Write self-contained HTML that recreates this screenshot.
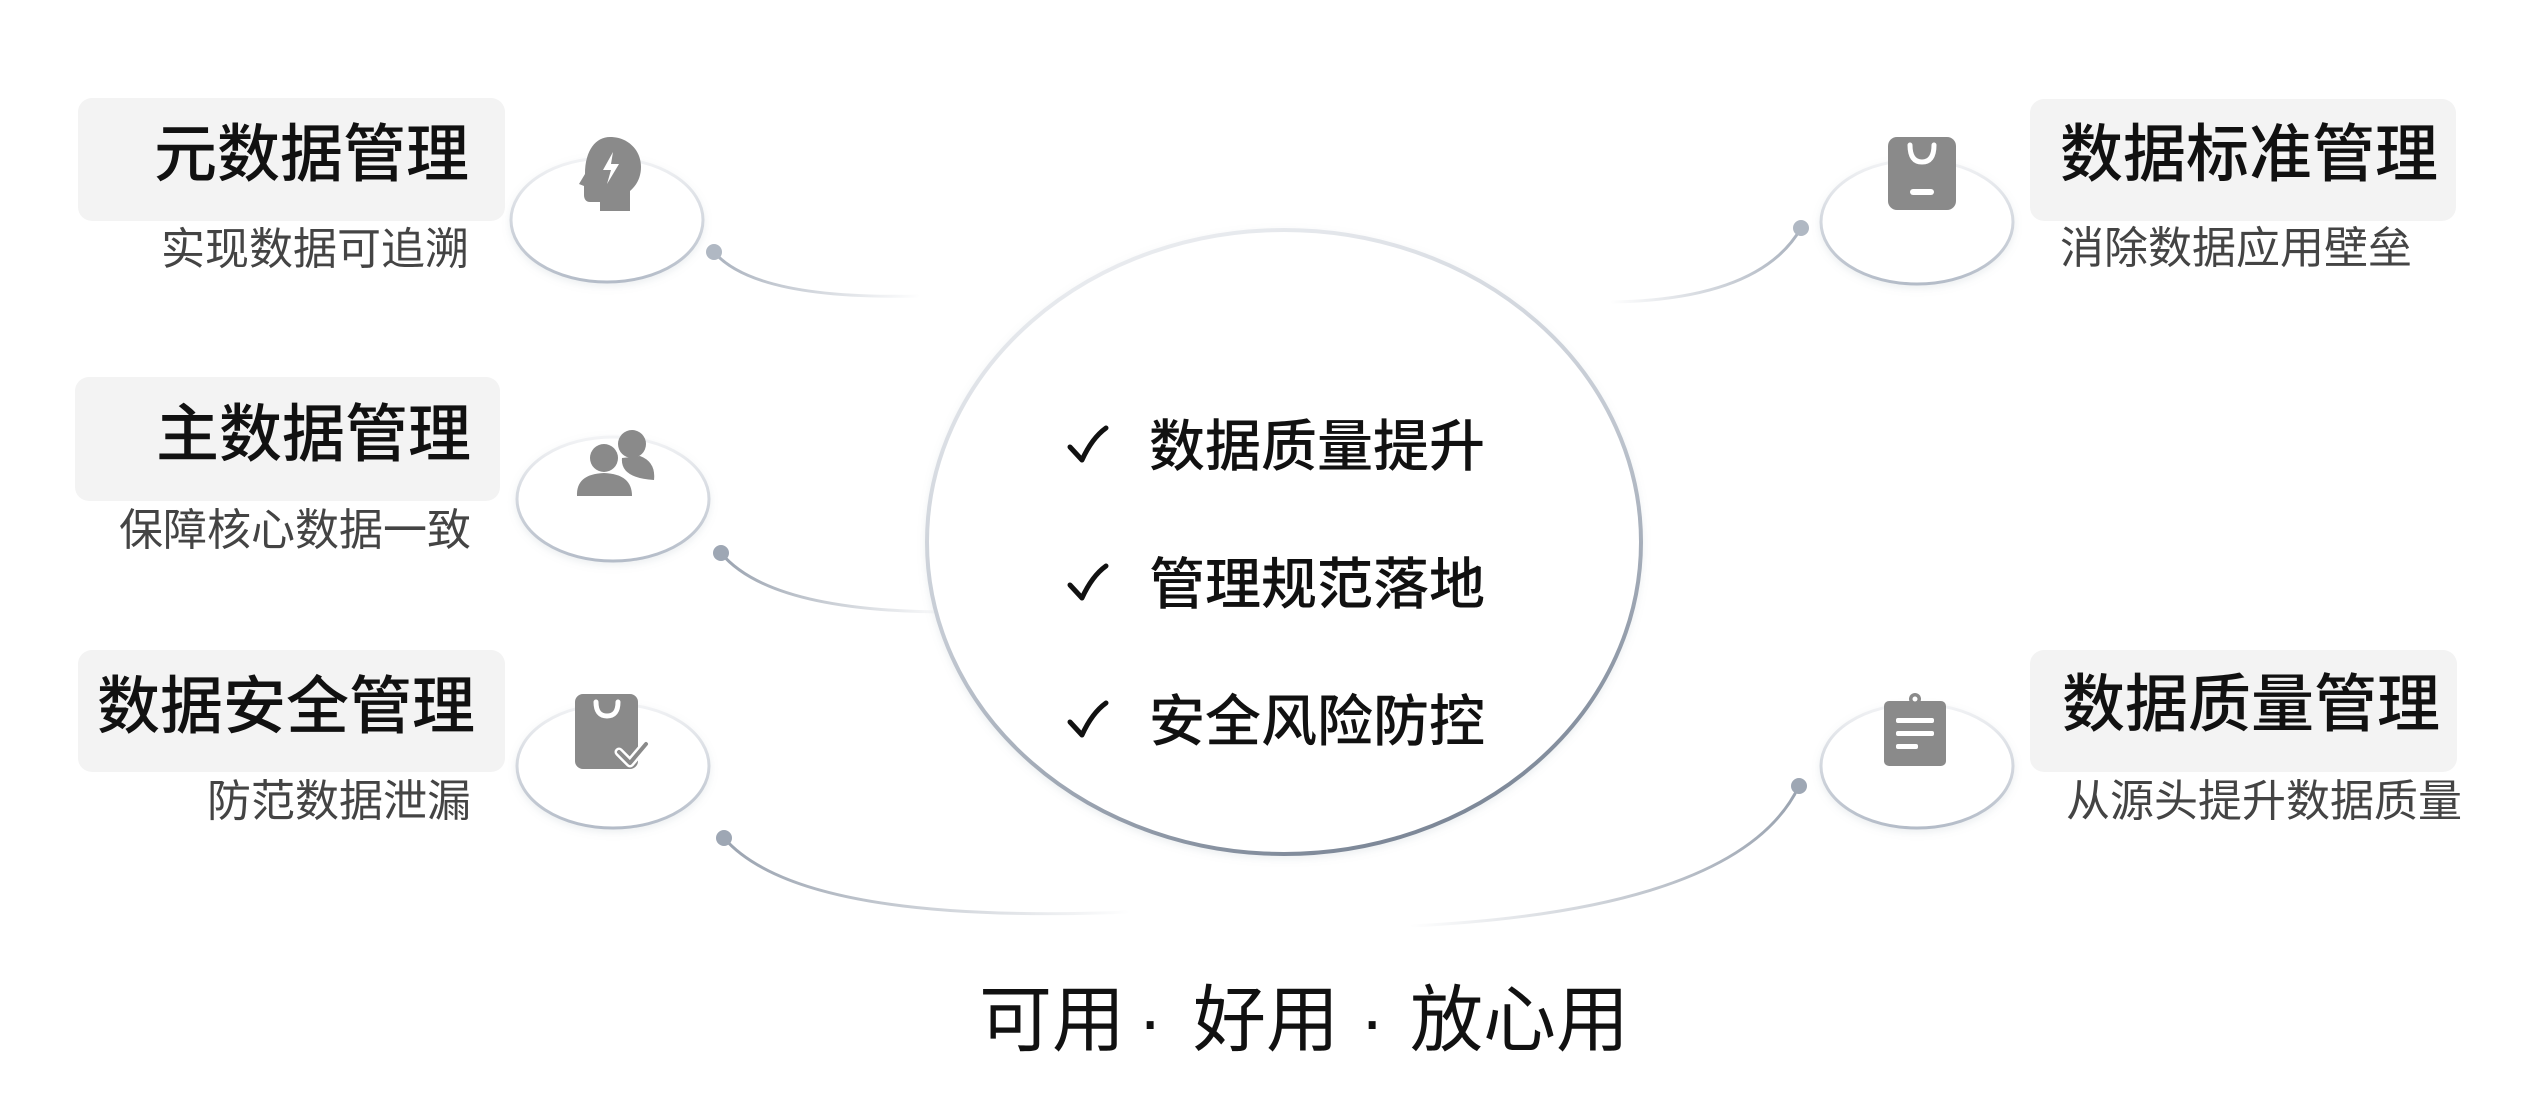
<!DOCTYPE html>
<html><head><meta charset="utf-8"><style>
html,body{margin:0;padding:0;background:#fff;}
body{width:2546px;height:1112px;position:relative;overflow:hidden;font-family:"Liberation Sans","Noto Sans CJK SC",sans-serif;}
.box{position:absolute;background:#f3f3f3;border-radius:14px;}
.t{position:absolute;white-space:nowrap;line-height:1;}
.title{font-size:63px;color:#111;font-weight:500;}
.sub{font-size:44px;color:#444;}
.c{font-size:56px;color:#111;font-weight:500;}
.b{font-size:73px;color:#111;}
svg{position:absolute;left:0;top:0;}
</style></head><body>
<svg width="2546" height="1112" viewBox="0 0 2546 1112">
<defs>
<linearGradient id="eg" x1="0" y1="0" x2="0" y2="1">
<stop offset="0" stop-color="#f2f3f5"/><stop offset="1" stop-color="#b4bcc8"/></linearGradient>
<linearGradient id="big" x1="0.2" y1="0" x2="0.6" y2="1">
<stop offset="0" stop-color="#eef0f3"/><stop offset="0.5" stop-color="#c4cad3"/><stop offset="1" stop-color="#7d8898"/></linearGradient>
<linearGradient id="l1" gradientUnits="userSpaceOnUse" x1="714" y1="0" x2="920" y2="0"><stop offset="0" stop-color="#aab2be"/><stop offset="1" stop-color="#aab2be" stop-opacity="0"/></linearGradient>
<linearGradient id="l2" gradientUnits="userSpaceOnUse" x1="721" y1="0" x2="950" y2="0"><stop offset="0" stop-color="#9aa3b0"/><stop offset="1" stop-color="#9aa3b0" stop-opacity="0"/></linearGradient>
<linearGradient id="l3" gradientUnits="userSpaceOnUse" x1="724" y1="0" x2="1130" y2="0"><stop offset="0" stop-color="#9aa3b0"/><stop offset="1" stop-color="#9aa3b0" stop-opacity="0"/></linearGradient>
<linearGradient id="r1" gradientUnits="userSpaceOnUse" x1="1801" y1="0" x2="1610" y2="0"><stop offset="0" stop-color="#aab2be"/><stop offset="1" stop-color="#aab2be" stop-opacity="0"/></linearGradient>
<linearGradient id="r2" gradientUnits="userSpaceOnUse" x1="1799" y1="0" x2="1410" y2="0"><stop offset="0" stop-color="#9aa3b0"/><stop offset="1" stop-color="#9aa3b0" stop-opacity="0"/></linearGradient>
<filter id="sh" x="-20%" y="-20%" width="140%" height="140%"><feDropShadow dx="0" dy="3" stdDeviation="4" flood-color="#8090a0" flood-opacity="0.15"/></filter>
</defs>
<path d="M714,252 Q755,300 920,296" fill="none" stroke="url(#l1)" stroke-width="3"/>
<path d="M721,553 Q770,612 950,612" fill="none" stroke="url(#l2)" stroke-width="3"/>
<path d="M724,838 Q800,925 1130,912" fill="none" stroke="url(#l3)" stroke-width="3"/>
<path d="M1801,228 Q1760,300 1610,302" fill="none" stroke="url(#r1)" stroke-width="3"/>
<path d="M1799,786 Q1740,910 1410,926" fill="none" stroke="url(#r2)" stroke-width="3"/>
<circle cx="714" cy="252" r="8" fill="#b0b8c3"/>
<circle cx="721" cy="553" r="8" fill="#9ea7b4"/>
<circle cx="724" cy="838" r="8" fill="#9ea7b4"/>
<circle cx="1801" cy="228" r="8" fill="#b0b8c3"/>
<circle cx="1799" cy="786" r="8" fill="#9ea7b4"/>
<ellipse cx="1284" cy="542" rx="357" ry="312" fill="#fff" stroke="url(#big)" stroke-width="4" filter="url(#sh)"/>
<ellipse cx="607" cy="220" rx="96" ry="62" fill="#fff" stroke="url(#eg)" stroke-width="3" filter="url(#sh)"/>
<ellipse cx="613" cy="499" rx="96" ry="62" fill="#fff" stroke="url(#eg)" stroke-width="3" filter="url(#sh)"/>
<ellipse cx="613" cy="766" rx="96" ry="62" fill="#fff" stroke="url(#eg)" stroke-width="3" filter="url(#sh)"/>
<ellipse cx="1917" cy="222" rx="96" ry="62" fill="#fff" stroke="url(#eg)" stroke-width="3" filter="url(#sh)"/>
<ellipse cx="1917" cy="766" rx="96" ry="62" fill="#fff" stroke="url(#eg)" stroke-width="3" filter="url(#sh)"/>
<path d="M610,137 C628,137 641,150 641,167 C641,178 636,186 630,191 L630,211 L600,211 L600,202 L590,202 C586,202 584,199 584,195 L584,186 L579,184 L585,174 C585,150 596,137 610,137 Z" fill="#8a8a8a"/>
<path d="M613,152 L603,170 L611,170 L607,184 L619,164 L611,164 Z" fill="#fff"/>
<circle cx="632" cy="444" r="14" fill="#8a8a8a"/>
<path d="M622,458 Q620,478 654,480 Q656,462 640,456 Z" fill="#8a8a8a"/>
<circle cx="604" cy="458" r="17" fill="#fff"/>
<circle cx="604" cy="458" r="14" fill="#8a8a8a"/>
<path d="M577,496 Q576,474 604,473 Q632,474 632,496 Z" fill="#8a8a8a"/>
<rect x="575" y="694" width="63" height="75" rx="8" fill="#8a8a8a"/>
<path d="M596,702 Q596,716 607,716 Q618,716 618,702" fill="none" stroke="#fff" stroke-width="5" stroke-linecap="round"/>
<path d="M619,752 L630,763 L646,744" fill="none" stroke="#fff" stroke-width="9" stroke-linecap="round" stroke-linejoin="round"/>
<path d="M619,752 L630,763 L646,744" fill="none" stroke="#8a8a8a" stroke-width="4" stroke-linecap="round" stroke-linejoin="round"/>
<rect x="1888" y="137" width="68" height="73" rx="9" fill="#8a8a8a"/>
<path d="M1910,145 Q1910,162 1922,162 Q1934,162 1934,145" fill="none" stroke="#fff" stroke-width="5" stroke-linecap="round"/>
<rect x="1910" y="189" width="24" height="6" rx="3" fill="#fff"/>
<rect x="1884" y="701" width="62" height="65" rx="5" fill="#8a8a8a"/>
<circle cx="1915" cy="699" r="6" fill="#8a8a8a"/>
<circle cx="1915" cy="699" r="2.5" fill="#fff"/>
<rect x="1896" y="718" width="38" height="5" rx="2" fill="#fff"/>
<rect x="1896" y="731" width="38" height="5" rx="2" fill="#fff"/>
<rect x="1896" y="744" width="22" height="5" rx="2" fill="#fff"/>
<path d="M1070,447 L1082,460 Q1092,438 1106,428" fill="none" stroke="#111" stroke-width="5" stroke-linecap="round" stroke-linejoin="round"/>
<path d="M1070,585 L1082,598 Q1092,576 1106,566" fill="none" stroke="#111" stroke-width="5" stroke-linecap="round" stroke-linejoin="round"/>
<path d="M1070,722 L1082,735 Q1092,713 1106,703" fill="none" stroke="#111" stroke-width="5" stroke-linecap="round" stroke-linejoin="round"/>
</svg>

<div class="box" style="left:78px;top:98px;width:427px;height:123px"></div>
<div class="box" style="left:75px;top:377px;width:425px;height:124px"></div>
<div class="box" style="left:78px;top:650px;width:427px;height:122px"></div>
<div class="box" style="left:2030px;top:99px;width:426px;height:122px"></div>
<div class="box" style="left:2030px;top:650px;width:427px;height:122px"></div>

<div class="t title" style="right:2077px;top:124px">元数据管理</div>
<div class="t sub" style="right:2077px;top:228px">实现数据可追溯</div>
<div class="t title" style="right:2075px;top:404px">主数据管理</div>
<div class="t sub" style="right:2075px;top:509px">保障核心数据一致</div>
<div class="t title" style="right:2071px;top:676px">数据安全管理</div>
<div class="t sub" style="right:2075px;top:780px">防范数据泄漏</div>
<div class="t title" style="left:2060px;top:124px">数据标准管理</div>
<div class="t sub" style="left:2060px;top:227px">消除数据应用壁垒</div>
<div class="t title" style="left:2062px;top:674px">数据质量管理</div>
<div class="t sub" style="left:2066px;top:780px">从源头提升数据质量</div>

<div class="t c" style="left:1149px;top:419px">数据质量提升</div>
<div class="t c" style="left:1149px;top:557px">管理规范落地</div>
<div class="t c" style="left:1149px;top:694px">安全风险防控</div>

<div class="t b" style="left:979px;top:984px">可用</div>
<div class="t b" style="left:1138px;top:984px">·</div>
<div class="t b" style="left:1193px;top:984px">好用</div>
<div class="t b" style="left:1360px;top:984px">·</div>
<div class="t b" style="left:1410px;top:984px">放心用</div>
</body></html>
